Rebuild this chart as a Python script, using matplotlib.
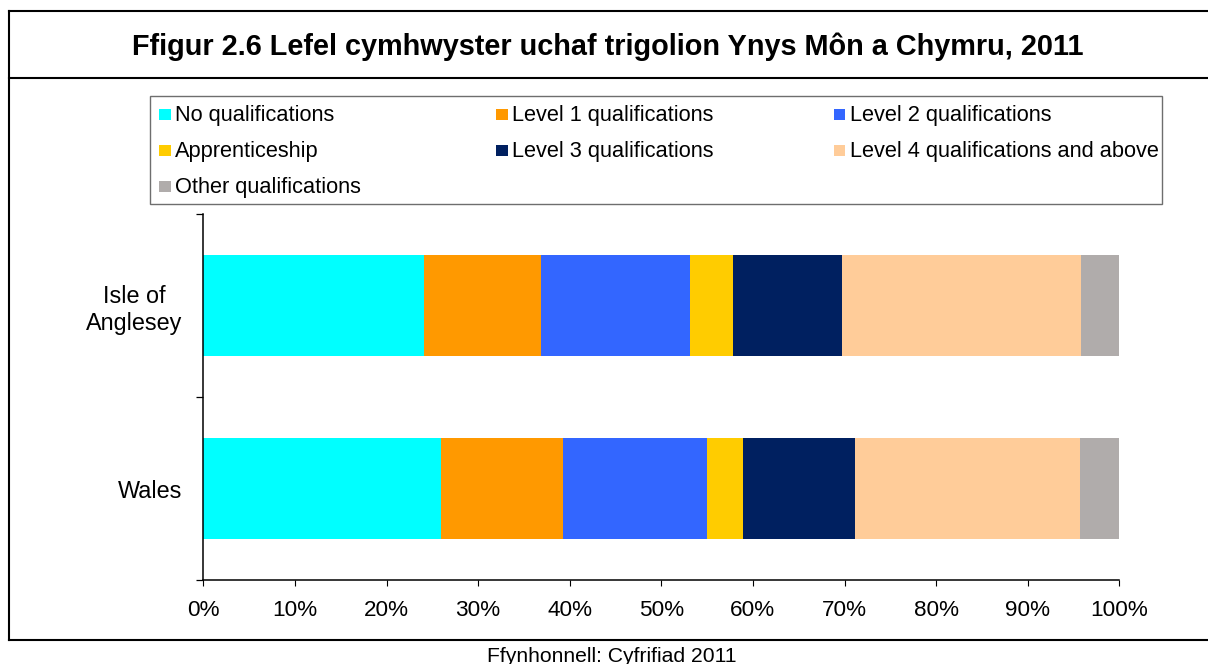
import matplotlib
matplotlib.use("Agg")
import matplotlib.pyplot as plt
from matplotlib.patches import Rectangle
from matplotlib.lines import Line2D
import numpy as np

plt.rcParams['font.family'] = ['Liberation Sans', 'DejaVu Sans']

# ---- data ----
categories = ["Wales", "Isle of\nAnglesey"]   # bottom to top
series_names = ["No qualifications", "Level 1 qualifications", "Level 2 qualifications",
                "Apprenticeship", "Level 3 qualifications", "Level 4 qualifications and above",
                "Other qualifications"]
no_qual = [26.0, 24.1]
level1 = [13.3, 12.8]
level2 = [15.7, 16.2]
apprentice = [3.9, 4.7]
level3 = [12.3, 11.9]
level4 = [24.5, 26.1]
other = [4.3, 4.2]
series_values = [no_qual, level1, level2, apprentice, level3, level4, other]
colors = ["#00FFFF", "#FF9900", "#3366FF", "#FFCC00", "#002060", "#FFCC99", "#B0ACAB"]
xticks = list(range(0, 101, 10))
xtick_labels = [f"{t}%" for t in xticks]

title = "Ffigur 2.6 Lefel cymhwyster uchaf trigolion Ynys Môn a Chymru, 2011"
source = "Ffynhonnell: Cyfrifiad 2011"

W, H = 1208, 664
fig = plt.figure(figsize=(W / 100, H / 100), dpi=100)

def fx(x):
    return x / W

def fy(y):
    return 1 - y / H

ax = fig.add_axes([fx(203.3), fy(580), fx(1119.3) - fx(203.3), fy(214) - fy(580)])

ypos = np.arange(len(categories))
left = np.zeros(len(categories))
for name, vals, c in zip(series_names, series_values, colors):
    ax.barh(ypos, vals, left=left, height=0.556, color=c, edgecolor='none', label=name)
    left += np.array(vals)

ax.set_xlim(0, 100)
ax.set_ylim(-0.5, 1.5)
ax.set_xticks(xticks)
ax.set_xticklabels(xtick_labels, fontsize=16.2)
ax.tick_params(axis='x', direction='out', length=4.5, width=0.8, pad=10, colors='black')

ax.set_yticks([-0.5, 0.5, 1.5])
ax.set_yticklabels([])
ax.tick_params(axis='y', which='major', direction='out', length=5, width=0.9)
ax.set_yticks(ypos, minor=True)
ax.set_yticklabels(categories, minor=True, fontsize=16.8)
ax.tick_params(axis='y', which='minor', length=0, pad=15)
for t in ax.get_yticklabels(minor=True):
    t.set_multialignment('center')

for s in ['top', 'right']:
    ax.spines[s].set_visible(False)
for s in ['left', 'bottom']:
    ax.spines[s].set_linewidth(1.1)
    ax.spines[s].set_color('black')

# ---- outer frame ----
lw = 1.5
fig.add_artist(Line2D([fx(9), fx(9)], [fy(11), fy(640)], color='black', lw=lw, transform=fig.transFigure))
fig.add_artist(Line2D([fx(9), 1], [fy(11), fy(11)], color='black', lw=lw, transform=fig.transFigure))
fig.add_artist(Line2D([fx(9), 1], [fy(78), fy(78)], color='black', lw=lw, transform=fig.transFigure))
fig.add_artist(Line2D([fx(9), 1], [fy(640), fy(640)], color='black', lw=lw, transform=fig.transFigure))

# ---- title & source ----
fig.text(fx(608), fy(55), title, ha='center', va='baseline', fontsize=20.8, fontweight='bold')
fig.text(fx(612), fy(662), source, ha='center', va='baseline', fontsize=15.2)

# ---- legend (manual, Excel-like equal columns) ----
fig.add_artist(Rectangle((fx(149.7), fy(204.3)), fx(1161.7) - fx(149.7), fy(96.3) - fy(204.3),
                         transform=fig.transFigure, facecolor='white', edgecolor='#6E6E6E', lw=1.0))
legend_order = [0, 1, 2, 3, 4, 5, 6]
col_marker_x = [159, 496, 834]
col_text_x = [175, 512, 850]
row_base_y = [121, 157, 193]
msize = 11.5
for k, idx in enumerate(legend_order):
    r, c = divmod(k, 3)
    mx = col_marker_x[c]
    my = row_base_y[r] - 6.5
    fig.add_artist(Rectangle((fx(mx), fy(my + msize / 2)), msize / W, msize / H,
                             transform=fig.transFigure, facecolor=colors[idx], edgecolor='none'))
    fig.text(fx(col_text_x[c]), fy(row_base_y[r]), series_names[idx], ha='left', va='baseline',
             fontsize=15.7)

fig.savefig("out.png", dpi=100)
